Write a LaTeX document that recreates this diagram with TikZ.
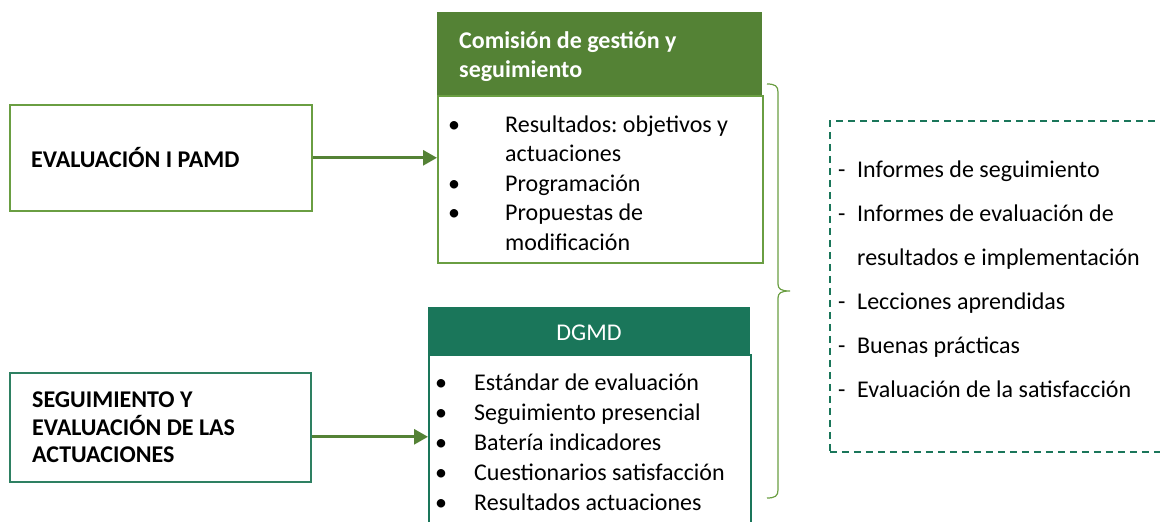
\documentclass[tikz,border=0pt]{standalone}
\usepackage{fontspec}
\setmainfont{Carlito}
\usetikzlibrary{arrows.meta,calc}
\definecolor{hdrgreen}{HTML}{548235}
\definecolor{boxgreen}{HTML}{6A9E42}
\definecolor{teal}{HTML}{1A765A}
\definecolor{tealbox}{HTML}{2E8062}
\tikzset{
  txt/.style={inner sep=0pt, anchor=base west, font=\fontsize{24}{29.5}\selectfont\frenchspacing},
  gbox/.style={draw=boxgreen, line width=1.6pt, anchor=north west, inner sep=0pt},
  tbox/.style={draw=tealbox, line width=1.6pt, anchor=north west, inner sep=0pt},
  hdr/.style={anchor=north west, inner sep=0pt},
  arr/.style={draw=hdrgreen, line width=3pt, -{Triangle[length=14pt,width=15pt]}},
}
\begin{document}
\begin{tikzpicture}[x=1pt,y=-1pt]
\useasboundingbox (0,0) rectangle (1160,522);
% left boxes
\node[gbox, minimum width=302pt, minimum height=106pt] (lb1) at (9,104) {};
\node[txt, font=\fontsize{24}{29}\selectfont\bfseries] (lb1t) at (31,167) {EVALUACIÓN I PAMD};
\node[tbox, minimum width=301pt, minimum height=109pt] (lb2) at (9,372) {};
\node[txt, font=\fontsize{24}{27.5}\selectfont\bfseries] (lb2t) at (32,407)
  {\begin{tabular}[t]{@{}l@{}}SEGUIMIENTO Y\\EVALUACIÓN DE LAS\\ACTUACIONES\end{tabular}};
% top group
\node[hdr, fill=hdrgreen, minimum width=325pt, minimum height=83pt] (h1) at (437,12) {};
\node[txt, text=white, font=\fontsize{24}{29}\selectfont\bfseries] (h1t) at (459,48)
  {\begin{tabular}[t]{@{}l@{}}Comisión de gestión y\\seguimiento\end{tabular}};
\node[gbox, minimum width=325pt, minimum height=167pt] (l1) at (437,95) {};
\node[txt] (l1t) at (448,132)
  {\begin{tabular}[t]{@{}p{57pt}@{}l@{}}
  \textbullet & Resultados: objetivos y\\
  & actuaciones\\
  \textbullet & Programación\\
  \textbullet & Propuestas de\\
  & modificación
  \end{tabular}};
% bottom group
\node[hdr, fill=teal, minimum width=322pt, minimum height=47pt] (h2) at (428,307) {};
\node[txt, anchor=base, text=white] (h2t) at (589,340) {DGMD};
\node[draw=teal, line width=1.6pt, anchor=north west, inner sep=0pt, minimum width=322pt, minimum height=190pt] (l2) at (428,354) {};
\node[txt, font=\fontsize{24}{30}\selectfont\frenchspacing] (l2t) at (435,390)
  {\begin{tabular}[t]{@{}p{39pt}@{}l@{}}
  \textbullet & Estándar de evaluación\\
  \textbullet & Seguimiento presencial\\
  \textbullet & Batería indicadores\\
  \textbullet & Cuestionarios satisfacción\\
  \textbullet & Resultados actuaciones
  \end{tabular}};
% arrows
\draw[arr] (lb1.east) -- (lb1.east -| l1.west);
\draw[arr] ([yshift=-9.5pt]lb2.east) -- ([yshift=-9.5pt]lb2.east -| l2.west);
% brace
\draw[draw=boxgreen, line width=1.2pt]
  (767,84) .. controls (775,84) and (778,86) .. (778,92) -- (778,284)
  .. controls (778,289) and (781,291) .. (790,291)
  .. controls (781,291) and (778,293) .. (778,298) -- (778,490)
  .. controls (778,496) and (775,498) .. (767,498);
% dashed box
\node[draw=teal, dash pattern=on 7pt off 5pt, line width=1.5pt, anchor=north west, inner sep=0pt, minimum width=345pt, minimum height=331pt] (db) at (829,120) {};
\node[txt, font=\fontsize{24}{44}\selectfont\frenchspacing] (dbt) at (838,177)
  {\begin{tabular}[t]{@{}p{19pt}@{}l@{}}
  - & Informes de seguimiento\\
  - & Informes de evaluación de\\
  & resultados e implementación\\
  - & Lecciones aprendidas\\
  - & Buenas prácticas\\
  - & Evaluación de la satisfacción
  \end{tabular}};
\end{tikzpicture}
\end{document}
